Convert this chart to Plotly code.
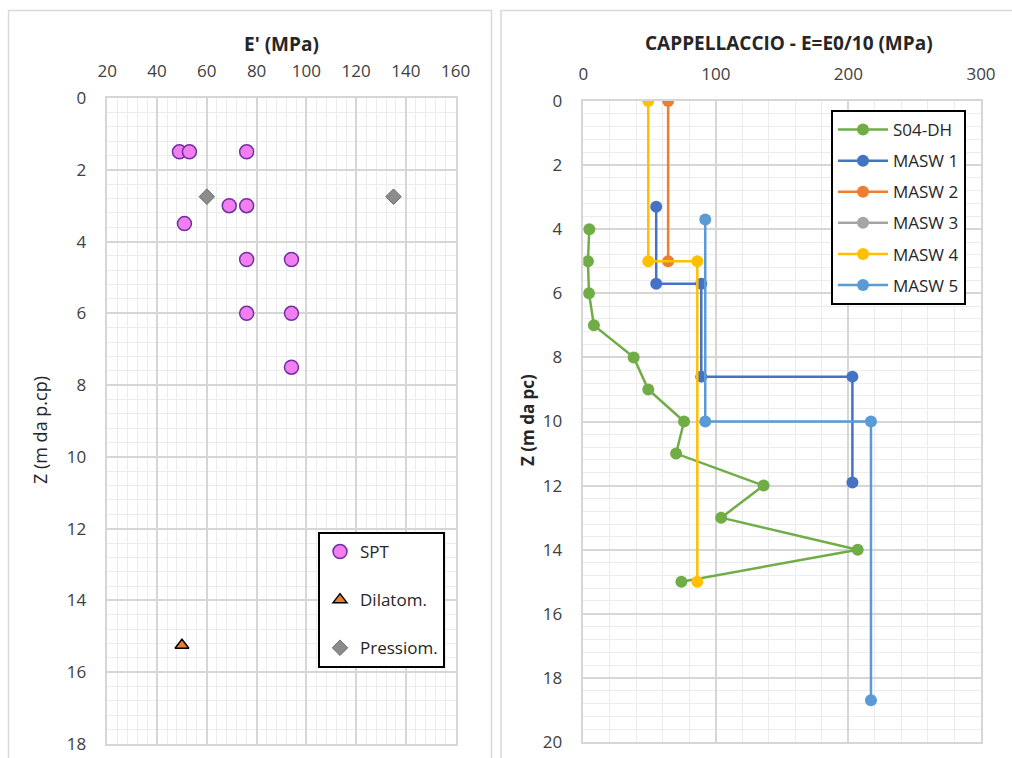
import plotly.graph_objects as go

W, H = 1012, 758

# ---------------- data: left chart ----------------
spt_E = [49, 53, 76, 69, 76, 51, 76, 94, 76, 94, 94]
spt_Z = [1.5, 1.5, 1.5, 3.0, 3.0, 3.5, 4.5, 4.5, 6.0, 6.0, 7.5]
dil_E = [50]
dil_Z = [15.25]
pres_E = [60, 135]
pres_Z = [2.75, 2.75]

# ---------------- data: right chart ----------------
s04_E = [4.5, 3.5, 4.3, 8, 38, 49, 76, 70, 136, 104, 207, 74]
s04_Z = [4, 5, 6, 7, 8, 9, 10, 11, 12, 13, 14, 15]
masw1_E = [55, 55, 89, 89, 203, 203]
masw1_Z = [3.3, 5.7, 5.7, 8.6, 8.6, 11.9]
masw2_E = [64, 64]
masw2_Z = [0, 5.0]
masw3_E = [None]
masw3_Z = [None]
masw4_E = [49, 49, 86, 86]
masw4_Z = [0, 5.0, 5.0, 15.0]
masw5_E = [92, 92, 217, 217]
masw5_Z = [3.7, 10.0, 10.0, 18.7]

FONT = "Open Sans"
TXT = "#404040"
MAJ = "#D6D6D6"
MIN = "#ECECEC"

fig = go.Figure()

# left traces
fig.add_trace(go.Scatter(x=spt_E, y=spt_Z, mode="markers", name="SPT",
                         marker=dict(size=14, color="#F27EF2", line=dict(color="#7030A0", width=1.5)),
                         xaxis="x", yaxis="y", legend="legend", legendgroup="a"))
fig.add_trace(go.Scatter(x=dil_E, y=dil_Z, mode="markers", name="Dilatom.",
                         marker=dict(size=12, symbol="triangle-up", color="#ED7D31", line=dict(color="#000000", width=1.5)),
                         xaxis="x", yaxis="y", legend="legend", legendgroup="b"))
fig.add_trace(go.Scatter(x=pres_E, y=pres_Z, mode="markers", name="Pressiom.",
                         marker=dict(size=12, symbol="diamond", color="#8C8C8C", line=dict(color="#6E6E6E", width=1)),
                         xaxis="x", yaxis="y", legend="legend", legendgroup="c"))

# right traces
series = [
    ("S04-DH", s04_E, s04_Z, "#70AD47"),
    ("MASW 1", masw1_E, masw1_Z, "#4472C4"),
    ("MASW 2", masw2_E, masw2_Z, "#ED7D31"),
    ("MASW 3", masw3_E, masw3_Z, "#A5A5A5"),
    ("MASW 4", masw4_E, masw4_Z, "#FFC000"),
    ("MASW 5", masw5_E, masw5_Z, "#5B9BD5"),
]
for i, (nm, ex, zz, col) in enumerate(series):
    fig.add_trace(go.Scatter(x=ex, y=zz, mode="lines+markers", name=nm,
                             line=dict(color=col, width=2.5),
                             marker=dict(size=12, color=col),
                             xaxis="x2", yaxis="y2", legend="legend2", legendgroup="r%d" % i))

def xa(domain, rng, dtick, mdtick, tick0):
    return dict(domain=domain, range=rng, side="top", tick0=tick0, dtick=dtick,
                showgrid=True, gridcolor=MAJ, gridwidth=1.5,
                minor=dict(tick0=tick0, dtick=mdtick, showgrid=True, gridcolor=MIN, gridwidth=1),
                showline=True, mirror=True, linecolor=MAJ, linewidth=1.5,
                ticks="", zeroline=False, ticklabelstandoff=12, automargin=False,
                tickfont=dict(family=FONT, size=17, color=TXT), fixedrange=True)

def ya(domain, rng, anchor):
    return dict(domain=domain, range=rng, tick0=0, dtick=2, anchor=anchor,
                showgrid=True, gridcolor=MAJ, gridwidth=1.5,
                minor=dict(tick0=0, dtick=0.4, showgrid=True, gridcolor=MIN, gridwidth=1),
                showline=True, mirror=True, linecolor=MAJ, linewidth=1.5,
                ticks="", zeroline=False, ticklabelstandoff=16, automargin=False,
                tickfont=dict(family=FONT, size=17, color=TXT), fixedrange=True)

fig.update_layout(
    width=W, height=H, margin=dict(l=0, r=0, t=0, b=0, pad=0, autoexpand=False),
    paper_bgcolor="white", plot_bgcolor="white",
    font=dict(family=FONT, size=17, color=TXT),
    xaxis=dict(**xa([107.3 / W, 455.7 / W], [20, 160], 20, 4, 20), anchor="y"),
    yaxis=ya([1 - 744 / H, 1 - 98 / H], [18, 0], "x"),
    xaxis2=dict(**xa([583.3 / W, 981 / W], [0, 300], 100, 20, 0), anchor="y2"),
    yaxis2=ya([1 - 742 / H, 1 - 101 / H], [20, 0], "x2"),
    legend=dict(x=318 / W, y=1 - 532 / H, xanchor="left", yanchor="top",
                bgcolor="white", bordercolor="#000000", borderwidth=2,
                traceorder="grouped", tracegroupgap=23,
                font=dict(family=FONT, size=17, color="#262626")),
    legend2=dict(x=831 / W, y=1 - 110 / H, xanchor="left", yanchor="top",
                 bgcolor="white", bordercolor="#000000", borderwidth=2,
                 traceorder="grouped", tracegroupgap=6, itemwidth=50,
                 font=dict(family=FONT, size=17, color="#262626")),
    showlegend=True,
)

# chart-area frames
fig.add_shape(type="rect", xref="paper", yref="paper", x0=8.5 / W, x1=491.5 / W,
              y0=-0.05, y1=1 - 10.5 / H, line=dict(color="#D9D9D9", width=1.5), layer="below")
fig.add_shape(type="rect", xref="paper", yref="paper", x0=501 / W, x1=1.05,
              y0=-0.05, y1=1 - 10.5 / H, line=dict(color="#D9D9D9", width=1.5), layer="below")

# titles
fig.add_annotation(text="<b>E' (MPa)</b>", xref="paper", yref="paper", x=281 / W, y=1 - 44 / H,
                   showarrow=False, xanchor="center", yanchor="middle",
                   font=dict(family=FONT, size=19, color="#262626"))
fig.add_annotation(text="<b>CAPPELLACCIO - E=E0/10 (MPa)</b>", xref="paper", yref="paper",
                   x=789 / W, y=1 - 43 / H, showarrow=False, xanchor="center", yanchor="middle",
                   font=dict(family=FONT, size=19, color="#262626"))
fig.add_annotation(text="Z (m da p.cp)", xref="paper", yref="paper", x=40 / W, y=1 - 430 / H,
                   showarrow=False, textangle=-90, xanchor="center", yanchor="middle",
                   font=dict(family=FONT, size=18, color="#262626"))
fig.add_annotation(text="<b>Z (m da pc)</b>", xref="paper", yref="paper", x=527 / W, y=1 - 420 / H,
                   showarrow=False, textangle=-90, xanchor="center", yanchor="middle",
                   font=dict(family=FONT, size=17, color="#262626"))

fig.write_html("out.html", config={"displayModeBar": False},
               post_script="document.body.style.margin='0';document.body.style.overflow='hidden';")
